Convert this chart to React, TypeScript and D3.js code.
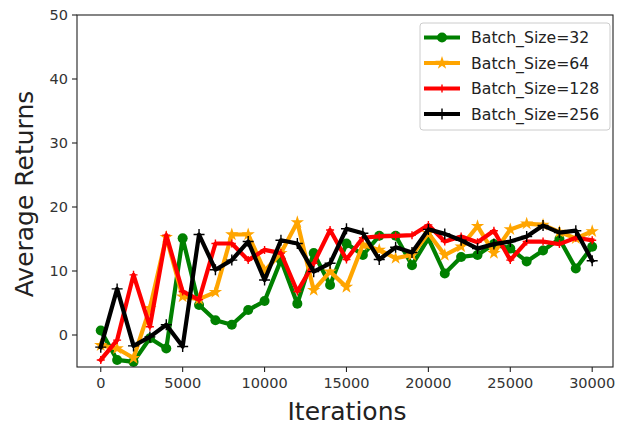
import React from "react";
import * as d3 from "d3";

const iterations: number[] = d3.range(0, 30001, 1000);

const bs32: number[] = [0.7, -3.9, -4.2, -0.5, -2.1, 15.1, 4.7, 2.3, 1.6, 3.9, 5.3, 11.7, 4.9, 12.8, 7.8, 14.3, 12.5, 15.5, 15.5, 10.9, 15.1, 9.6, 12.2, 12.5, 14.2, 13.5, 11.5, 13.2, 15.0, 10.4, 13.8];
const bs64: number[] = [-1.6, -2.1, -3.6, 4.2, 15.3, 6.0, 5.6, 6.7, 15.7, 15.7, 10.0, 12.8, 17.6, 7.0, 9.9, 7.5, 14.1, 13.3, 12.0, 12.5, 15.9, 12.5, 13.8, 17.0, 12.8, 16.5, 17.4, 17.2, 16.1, 15.1, 16.2];
const bs128: number[] = [-3.9, -0.8, 9.4, 1.3, 15.6, 6.8, 5.5, 14.3, 14.3, 11.7, 13.3, 12.8, 6.8, 11.2, 16.4, 11.8, 15.2, 15.4, 15.5, 15.6, 17.2, 14.6, 15.4, 14.5, 16.3, 11.7, 14.6, 14.6, 14.2, 15.2, 14.8];
const bs256: number[] = [-1.9, 7.2, -1.7, -0.3, 1.6, -1.8, 15.7, 10.2, 11.7, 14.6, 8.6, 14.8, 14.3, 9.9, 11.2, 16.6, 15.9, 11.8, 13.7, 12.9, 16.5, 15.8, 14.8, 13.5, 14.2, 14.6, 15.4, 17.1, 16.0, 16.3, 11.6];

const xTicks: number[] = [0, 5000, 10000, 15000, 20000, 25000, 30000];
const yTicks: number[] = [0, 10, 20, 30, 40, 50];

const seriesNames: string[] = ["Batch_Size=32", "Batch_Size=64", "Batch_Size=128", "Batch_Size=256"];
const seriesValues: number[][] = [bs32, bs64, bs128, bs256];
const seriesColors: string[] = ["#008000", "#FFA500", "#FF0000", "#000000"];
const seriesMarkers: string[] = ["circle", "star", "plus", "plus"];

const W = 619;
const H = 426;
const L = 77, R = 613, T = 15, B = 367;
const FONT = "'DejaVu Sans', sans-serif";

function Marker({ type, color, x, y }: { type: string; color: string; x: number; y: number }) {
  if (type === "circle") return <circle cx={x} cy={y} r={5} fill={color} />;
  if (type === "star") {
    const p = d3.symbol().type(d3.symbolStar).size(55)();
    return <path d={p || ""} transform={`translate(${x},${y})`} fill={color} />;
  }
  const s = color === "#000000" ? 5.5 : 4;
  return (
    <path
      d={`M${-s},0H${s}M0,${-s}V${s}`}
      transform={`translate(${x},${y})`}
      stroke={color}
      strokeWidth={1.4}
      fill="none"
    />
  );
}

export default function App() {
  const x = d3.scaleLinear().domain([-1450, 31270]).range([L, R]);
  const y = d3.scaleLinear().domain([-5, 50]).range([B, T]);
  const line = d3
    .line<number>()
    .x((_, i) => x(iterations[i]))
    .y((d) => y(d));

  const legX = 420, legY = 23, legW = 190, legH = 107;
  const rowY = [37.5, 63, 88.5, 114];

  return (
    <svg width={W} height={H} style={{ position: "absolute", left: 0, top: 0, background: "#fff" }} fontFamily={FONT}>
      <rect x={0} y={0} width={W} height={H} fill="#fff" />
      <defs>
        <clipPath id="plotclip">
          <rect x={L} y={T} width={R - L} height={B - T} />
        </clipPath>
      </defs>
      <g clipPath="url(#plotclip)">
        {seriesValues.map((vals, si) => (
          <g key={si}>
            <path d={line(vals) || ""} fill="none" stroke={seriesColors[si]} strokeWidth={4.2} strokeLinejoin="round" strokeLinecap="square" />
            {vals.map((v, i) => (
              <Marker key={i} type={seriesMarkers[si]} color={seriesColors[si]} x={x(iterations[i])} y={y(v)} />
            ))}
          </g>
        ))}
      </g>
      <rect x={L} y={T} width={R - L} height={B - T} fill="none" stroke="#222" strokeWidth={1.1} />
      {xTicks.map((t) => (
        <g key={t}>
          <line x1={x(t)} x2={x(t)} y1={B} y2={B + 5} stroke="#222" strokeWidth={1.1} />
          <text x={x(t)} y={B + 21} textAnchor="middle" fontSize={14.5} fill="#333">{t}</text>
        </g>
      ))}
      {yTicks.map((t) => (
        <g key={t}>
          <line x1={L - 5} x2={L} y1={y(t)} y2={y(t)} stroke="#222" strokeWidth={1.1} />
          <text x={L - 9} y={y(t) + 5} textAnchor="end" fontSize={14.5} fill="#333">{t}</text>
        </g>
      ))}
      <text x={(L + R) / 2 + 2} y={420} textAnchor="middle" fontSize={25} fill="#222">Iterations</text>
      <text transform={`translate(33,194) rotate(-90)`} textAnchor="middle" fontSize={25} fill="#222">Average Returns</text>
      <rect x={legX} y={legY} width={legW} height={legH} rx={3} fill="#fff" fillOpacity={0.8} stroke="#ccc" strokeWidth={1} />
      {seriesNames.map((n, i) => (
        <g key={n}>
          <line x1={424} x2={460} y1={rowY[i]} y2={rowY[i]} stroke={seriesColors[i]} strokeWidth={4.2} />
          <Marker type={seriesMarkers[i]} color={seriesColors[i]} x={442} y={rowY[i]} />
          <text x={471} y={rowY[i] + 5.5} fontSize={15.7} fill="#222">{n}</text>
        </g>
      ))}
    </svg>
  );
}
